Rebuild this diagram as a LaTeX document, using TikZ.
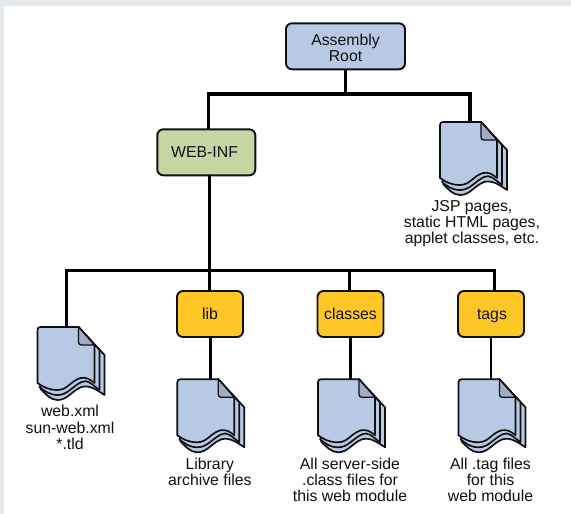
\documentclass[tikz,border=0pt]{standalone}
\usepackage{fontspec}
\setmainfont{Liberation Sans}
\definecolor{bandc}{HTML}{E3E8ED}
\definecolor{bluec}{HTML}{B8C9E4}
\definecolor{foldc}{HTML}{9FAEC6}
\definecolor{greenc}{HTML}{C5D6A5}
\definecolor{yellowc}{HTML}{FFC726}
\definecolor{inkc}{HTML}{101010}
\tikzset{
  x=1pt,y=-1pt,
  box/.style={draw=inkc,line width=1.9pt,rounded corners=6pt,align=center,inner sep=0pt,font=\fontsize{15.8}{16}\selectfont,text=inkc},
  rootbox/.style={box,fill=bluec,minimum width=119pt,minimum height=46pt},
  infbox/.style={box,fill=greenc,minimum width=98pt,minimum height=46pt},
  dirbox/.style={box,fill=yellowc,minimum width=66pt,minimum height=46pt,text height=13.5pt,text depth=3.5pt},
  link/.style={draw=black,line width=2.3pt},
  thicklink/.style={draw=black,line width=3pt},
  biglink/.style={draw=black,line width=3.4pt},
  lab/.style={align=center,inner sep=0pt,font=\fontsize{15.8}{16.2}\selectfont,text=inkc},
  anchorpt/.style={inner sep=0pt,minimum size=0pt},
  sheet/.style={draw=inkc,line width=1.7pt,line join=round,fill=bluec},
  docicon/.pic={
    \path[sheet] (41,0) -- (67,28) -- (67,68) .. controls (58,62) and (52,58) .. (44,60) .. controls (34,64) and (30,73) .. (20,73) .. controls (13,73) and (8,67) .. (3,62) -- cycle;
    \path[sheet] (41,0) -- (62,23) -- (62,63) .. controls (54,57) and (50,52) .. (44,55) .. controls (34,60) and (30,68) .. (20,68) .. controls (12,68) and (7,64) .. (2,60) -- cycle;
    \path[sheet] (41,0) -- (57,18) -- (57,56) .. controls (52,52) and (49,50) .. (43,51) .. controls (33,54) and (30,63) .. (20,63) .. controls (11,63) and (6,60) .. (0,56) -- (0,3) .. controls (0,1) and (1,0) .. (3,0) -- cycle;
    \path[draw=inkc,line width=1.3pt,fill=foldc,line join=round] (41,0) -- (57,18) -- (44,18) .. controls (42,18) and (41,17) .. (41,15) -- cycle;
  }
}
\begin{document}
\begin{tikzpicture}
\useasboundingbox (0,0) rectangle (571,514);
\fill[bandc] (0,0) rectangle (571,514);
\fill[white] (4,6) rectangle (571,514);

\node[rootbox] (root) at (345.5,46.3) {\rule{0pt}{14.5pt}Assembly\\Root};
\node[infbox] (webinf) at (206.3,152.3) {WEB-INF\hspace*{3.5pt}};
\node[dirbox] (lib) at (210,314) {lib};
\node[dirbox] (classes) at (350.5,314) {classes};
\node[dirbox] (tags) at (491,314) {\hspace*{2pt}tags};

\node[anchorpt] (jsp) at (469.8,122) {};
\node[anchorpt] (webxml) at (66.3,327) {};
\node[anchorpt] (libdoc) at (210,379.3) {};
\node[anchorpt] (classdoc) at (350.5,379.3) {};
\node[anchorpt] (tagdoc) at (491,379.3) {};

\coordinate (rootjoin) at (345.5,94);
\coordinate (webjoin) at (208.7,94);
\coordinate (webtop) at (208.7,129);
\coordinate (jspjoin) at (469.8,94);
\coordinate (infbase) at (209.4,175);
\coordinate (infjoin) at (209.4,270.7);
\coordinate (busl) at (66.3,270.7);
\coordinate (busr) at (494.5,270.7);
\coordinate (libup) at (209.4,270.7);
\coordinate (libtop) at (209.4,291);
\coordinate (classup) at (349.6,270.7);
\coordinate (classtop) at (349.6,291);
\coordinate (tagup) at (494.5,270.7);
\coordinate (tagtop) at (494.5,291);

\draw[biglink] (root) -- (rootjoin);
\draw[biglink,line cap=rect] (webjoin) -- (jspjoin);
\draw[biglink] (webjoin) -- (webtop);
\draw[biglink] (jspjoin) -- (jsp);
\draw[biglink] (infbase) -- (infjoin);
\draw[biglink,line cap=rect] (busl) -- (busr);
\draw[biglink] (busl) -- (webxml);
\draw[biglink] (libup) -- (libtop);
\draw[biglink] (classup) -- (classtop);
\draw[biglink] (tagup) -- (tagtop);
\draw[thicklink] (lib) -- (libdoc);
\draw[link] (classes) -- (classdoc);
\draw[link] (tags) -- (tagdoc);

\pic at (440,122) {docicon};
\pic at (37.5,327) {docicon};
\pic at (177.3,379.3) {docicon};
\pic at (318,379.3) {docicon};
\pic at (458.5,379.3) {docicon};

\node[lab] (jsplab) at (472,223.5) {JSP pages,\\static HTML pages,\\applet classes, etc.};
\node[lab] (xmllab) at (70,427.5) {web.xml\\sun-web.xml\\*.tld};
\node[lab] (liblab) at (209.8,472) {Library\\archive files};
\node[lab] (classlab) at (350,480) {All server-side\\.class files for\\this web module};
\node[lab] (taglab) at (490.5,480) {All .tag files\\for this\\web module};
\end{tikzpicture}
\end{document}
